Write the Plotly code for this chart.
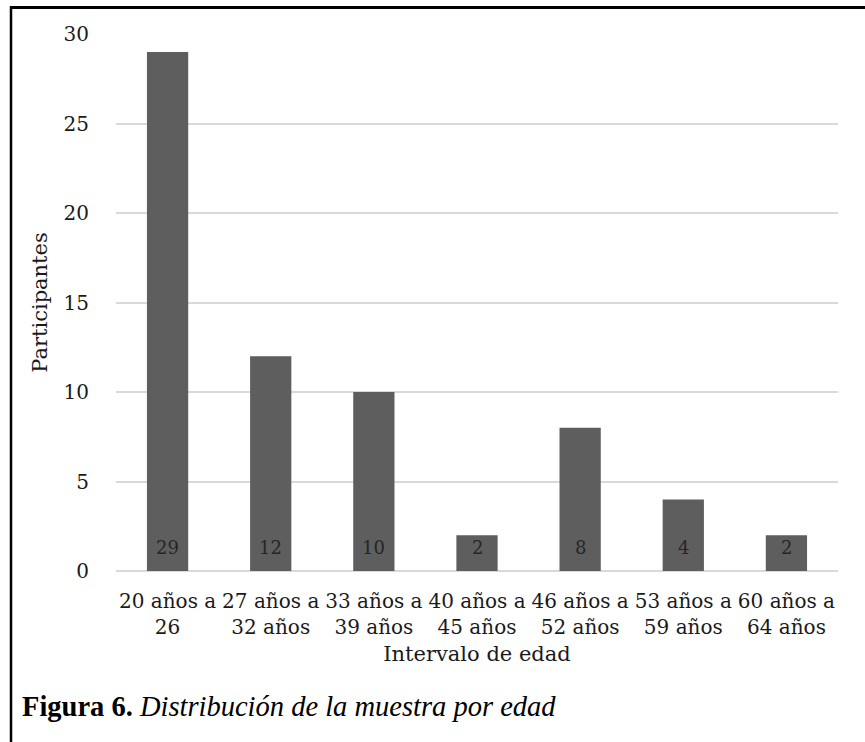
import plotly.graph_objects as go

# Age intervals and number of participants in each
categorias = [
    "20 años a<br>26",
    "27 años a<br>32 años",
    "33 años a<br>39 años",
    "40 años a<br>45 años",
    "46 años a<br>52 años",
    "53 años a<br>59 años",
    "60 años a<br>64 años",
]
participantes = [29, 12, 10, 2, 8, 4, 2]
y_ticks = [0, 5, 10, 15, 20, 25, 30]

W, H = 865, 742
L, R, T, B = 116, 27, 34, 171
pw, ph = W - L - R, H - T - B

FONT = "DejaVu Serif"
GRID = "#d9d9d9"
TXT = "#1a1a1a"

fig = go.Figure()
fig.add_trace(go.Bar(
    x=categorias,
    y=participantes,
    marker=dict(color="#5e5e5e", line=dict(width=0)),
    hoverinfo="skip",
))

# Value labels sitting at the base of each bar
for cat, v in zip(categorias, participantes):
    fig.add_annotation(
        x=cat, y=0, text=str(v), showarrow=False,
        xref="x", yref="y", yanchor="bottom", yshift=11,
        font=dict(family=FONT, size=18, color="#262626"),
    )

def px_to_paper_x(px):
    return (px - L) / pw

def px_to_paper_y(py):
    return (H - B - py) / ph

# Frame lines (top and left)
fig.add_shape(type="line", xref="paper", yref="paper",
              x0=px_to_paper_x(11), x1=px_to_paper_x(W + 5),
              y0=px_to_paper_y(7.5), y1=px_to_paper_y(7.5),
              line=dict(color="black", width=3))
fig.add_shape(type="line", xref="paper", yref="paper",
              x0=px_to_paper_x(11), x1=px_to_paper_x(11),
              y0=px_to_paper_y(6), y1=px_to_paper_y(H + 5),
              line=dict(color="black", width=2.5))

# Figure caption
fig.add_annotation(
    xref="paper", yref="paper",
    x=px_to_paper_x(20), y=px_to_paper_y(706),
    xanchor="left", yanchor="middle", showarrow=False,
    text="<b>Figura 6.</b> <i>Distribución de la muestra por edad</i>",
    font=dict(family="Liberation Serif", size=28.5, color="black"),
)

fig.update_layout(
    width=W, height=H,
    margin=dict(l=L, r=R, t=T, b=B, autoexpand=False),
    paper_bgcolor="white", plot_bgcolor="white",
    bargap=0.6,
    showlegend=False,
    font=dict(family=FONT, color=TXT),
    xaxis=dict(
        type="category",
        showgrid=False, showline=False, zeroline=False,
        tickfont=dict(family=FONT, size=20, color=TXT),
        ticklabelstandoff=16,
        title=dict(text="Intervalo de edad", standoff=8,
                   font=dict(family=FONT, size=21, color=TXT)),
        automargin=False,
    ),
    yaxis=dict(
        range=[0, 30], tickvals=y_ticks,
        showgrid=True, gridcolor=GRID, gridwidth=2,
        zeroline=True, zerolinecolor=GRID, zerolinewidth=2,
        showline=False,
        tickfont=dict(family=FONT, size=20, color=TXT),
        ticklabelstandoff=26,
        title=dict(text="Participantes", standoff=10,
                   font=dict(family=FONT, size=21, color=TXT)),
        automargin=False,
    ),
)

fig.write_html("out.html")
